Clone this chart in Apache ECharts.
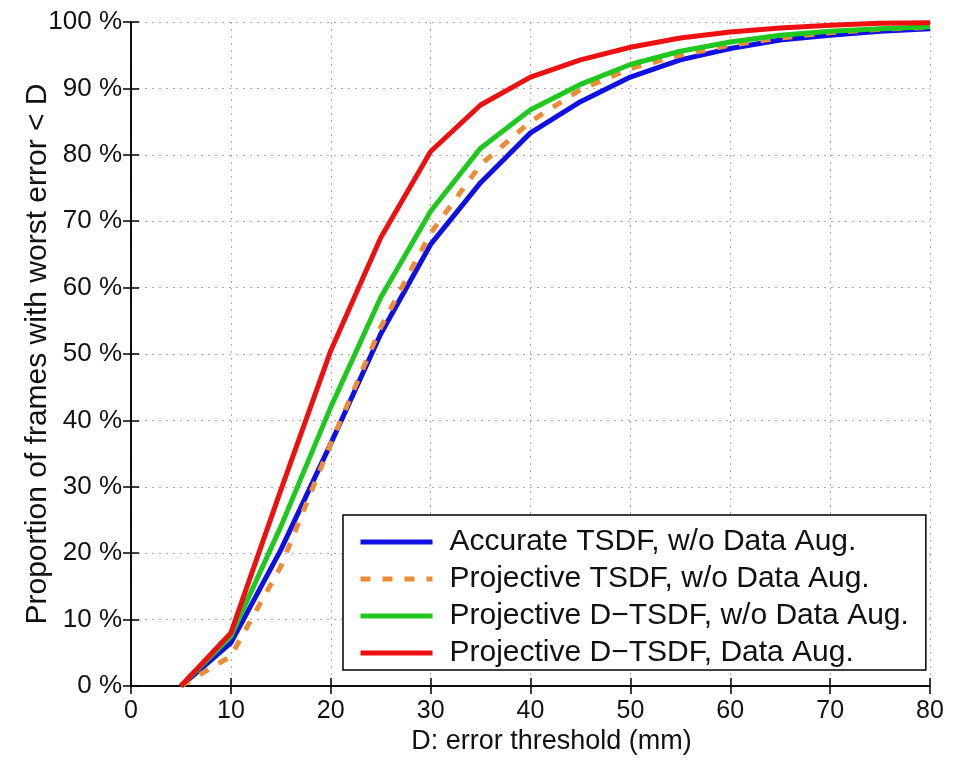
<!DOCTYPE html>
<html>
<head>
<meta charset="utf-8">
<script src="https://cdn.jsdelivr.net/npm/echarts@6/dist/echarts.min.js"></script>
<style>
  html, body { margin: 0; padding: 0; background: #fff; }
  #errorCurve { width: 958px; height: 760px; }
</style>
</head>
<body>
<div id="errorCurve"></div>
<script>
// error threshold (mm)
const thresholds = [5, 10, 15, 20, 25, 30, 35, 40, 45, 50, 55, 60, 65, 70, 75, 80]
// proportion of frames (%) for each method
const accurateTsdf = [0, 6.5, 20.5, 36.5, 53, 66.5, 75.8, 83.3, 88, 91.7, 94.3, 96, 97.3, 98, 98.6, 99]
const projectiveTsdf = [0, 4.5, 18, 36.5, 54, 68.2, 78.5, 85, 89.8, 93, 95, 96.5, 97.6, 98.4, 98.9, 99.2]
const projectiveDTsdf = [0, 7.5, 24, 42, 58.5, 71.5, 81, 86.8, 90.6, 93.6, 95.6, 97, 98, 98.6, 99, 99.3]
const projectiveDTsdfAug = [0, 8, 29.5, 50.5, 67.5, 80.5, 87.5, 91.7, 94.3, 96.2, 97.6, 98.5, 99.1, 99.5, 99.8, 99.9]
const xTicks = [0, 10, 20, 30, 40, 50, 60, 70, 80]
const yTicks = [0, 10, 20, 30, 40, 50, 60, 70, 80, 90, 100]

const names = [
  'Accurate TSDF, w/o Data Aug.',
  'Projective TSDF, w/o Data Aug.',
  'Projective D\u2212TSDF, w/o Data Aug.',
  'Projective D\u2212TSDF, Data Aug.'
]

const font = '"Liberation Sans", Arial, Helvetica, sans-serif'

function pairs (ys) {
  return thresholds.map((x, i) => [x, ys[i]])
}

const chart = echarts.init(document.getElementById('errorCurve'))

// top / right axes only close the box (MATLAB style)
const boxAxis = {
  axisLine: { show: true, lineStyle: { color: '#000', width: 1.5 } },
  axisTick: { show: true, inside: true, length: 8, lineStyle: { color: '#000', width: 1.5 } },
  axisLabel: { show: false },
  splitLine: { show: false }
}

const option = {
  backgroundColor: '#fff',
  animation: false,
  textStyle: { fontFamily: font },
  grid: { left: 131, right: 28, top: 22, bottom: 74 },
  legend: {
    data: names,
    orient: 'vertical',
    left: 343,
    top: 515,
    padding: [12, 17, 2, 15],
    itemWidth: 72,
    itemHeight: 20,
    itemGap: 7,
    backgroundColor: '#fff',
    borderColor: '#000',
    borderWidth: 1.5,
    borderRadius: 0,
    itemStyle: { opacity: 0 },
    lineStyle: { width: 5 },
    textStyle: { fontFamily: font, fontSize: 30, lineHeight: 30, color: '#111', padding: [0, 0, 0, 12] }
  },
  xAxis: [{
    type: 'value',
    min: 0,
    max: 80,
    interval: 10,
    name: 'D: error threshold (mm)',
    nameLocation: 'middle',
    nameGap: 42,
    nameMoveOverlap: false,
    nameTextStyle: { fontSize: 27, color: '#111', fontFamily: font, padding: [0, 0, 0, 42] },
    axisLine: { show: true, lineStyle: { color: '#000', width: 1.5 } },
    axisTick: { show: true, inside: true, length: 8, lineStyle: { color: '#000', width: 1.5 } },
    axisLabel: {
      fontSize: 25, color: '#111', margin: 13,
      customValues: xTicks
    },
    splitLine: { show: true, lineStyle: { color: '#aaa', width: 1, type: [2, 5] } }
  }, Object.assign({ type: 'value', min: 0, max: 80, interval: 10, position: 'top' }, boxAxis)],
  yAxis: [{
    type: 'value',
    min: 0,
    max: 100,
    interval: 10,
    name: 'Proportion of frames with worst error < D',
    nameLocation: 'middle',
    nameGap: 78,
    nameMoveOverlap: false,
    nameTextStyle: { fontSize: 30, color: '#111', fontFamily: font },
    axisLine: { show: true, lineStyle: { color: '#000', width: 1.5 } },
    axisTick: { show: true, inside: true, length: 8, lineStyle: { color: '#000', width: 1.5 } },
    axisLabel: {
      fontSize: 26, color: '#111', margin: 9,
      customValues: yTicks,
      formatter: function (v) { return v + ' %' }
    },
    splitLine: { show: true, lineStyle: { color: '#aaa', width: 1, type: [2, 5] } }
  }, Object.assign({ type: 'value', min: 0, max: 100, interval: 10, position: 'right' }, boxAxis)],
  series: [{
    name: names[0],
    type: 'line',
    data: pairs(accurateTsdf),
    symbol: 'none',
    lineStyle: { color: '#1010e6', width: 5 },
    itemStyle: { color: '#1010e6' }
  }, {
    name: names[1],
    type: 'line',
    data: pairs(projectiveTsdf),
    symbol: 'none',
    lineStyle: { color: '#ec8c36', width: 5, type: [10, 12] },
    itemStyle: { color: '#ec8c36' }
  }, {
    name: names[2],
    type: 'line',
    data: pairs(projectiveDTsdf),
    symbol: 'none',
    lineStyle: { color: '#1ec81e', width: 5 },
    itemStyle: { color: '#1ec81e' }
  }, {
    name: names[3],
    type: 'line',
    data: pairs(projectiveDTsdfAug),
    symbol: 'none',
    lineStyle: { color: '#ee1010', width: 5 },
    itemStyle: { color: '#ee1010' }
  }]
}

chart.setOption(option)
</script>
</body>
</html>
